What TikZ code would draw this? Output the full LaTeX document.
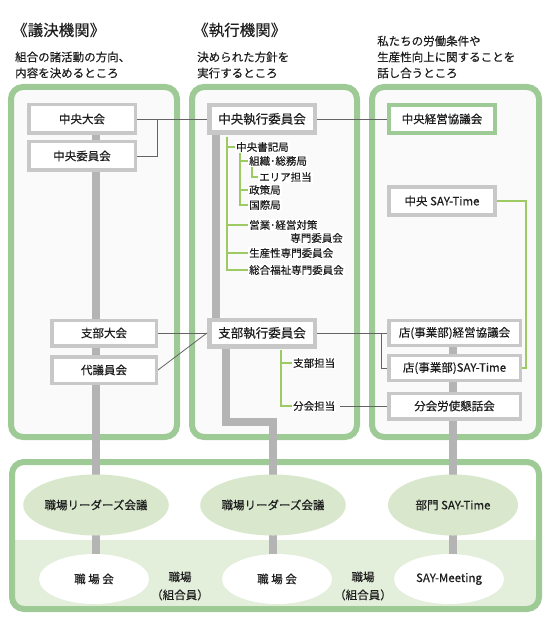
\documentclass[tikz,border=0pt]{standalone}
\usepackage{fontspec}
\setmainfont{Noto Sans CJK JP}[FakeBold=0.35]
\usetikzlibrary{shapes.geometric}

\definecolor{framegreen}{RGB}{158,202,150}
\definecolor{colbg}{RGB}{250,250,250}
\definecolor{boxgray}{RGB}{200,200,200}
\definecolor{bargray}{RGB}{180,180,180}
\definecolor{linkgray}{RGB}{100,100,100}
\definecolor{twiggreen}{RGB}{158,202,100}
\definecolor{ellgreen}{RGB}{217,232,205}
\definecolor{band}{RGB}{227,238,219}
\definecolor{txtgray}{RGB}{30,30,30}

\pgfdeclarelayer{back}
\pgfdeclarelayer{bars}
\pgfsetlayers{back,bars,main}

\begin{document}
\begin{tikzpicture}[x=1pt, y=-1pt,
  every node/.style={text=txtgray},
  frame/.style={draw=framegreen, line width=6pt, rounded corners=12pt, fill=colbg},
  box/.style={draw=boxgray, line width=3.5pt, fill=white, minimum width=106.5pt,
              minimum height=28.5pt, inner sep=1pt, font=\fontsize{11.5}{13}\selectfont},
  bigbox/.style={box, line width=4.5pt, minimum width=105.5pt, minimum height=27.5pt,
                 font=\fontsize{12.5}{14}\selectfont},
  widebox/.style={box, minimum width=131.5pt, minimum height=25pt},
  bar/.style={draw=bargray, line width=8pt},
  link/.style={draw=linkgray, line width=0.8pt},
  twig/.style={draw=twiggreen, line width=1.6pt},
  twigtxt/.style={anchor=west, inner sep=1pt, fill=white, font=\fontsize{10.5}{12}\selectfont},
  head/.style={anchor=west, inner sep=0pt, font=\fontsize{15.5}{18}\selectfont},
  note/.style={anchor=west, inner sep=0pt, font=\fontsize{11.5}{13}\selectfont},
  lead/.style={ellipse, fill=ellgreen, minimum width=130pt, minimum height=61pt,
               inner sep=0pt, font=\fontsize{11.5}{13}\selectfont},
  shop/.style={ellipse, fill=white, minimum width=110pt, minimum height=50pt,
               inner sep=0pt, font=\fontsize{11.5}{13}\selectfont},
  member/.style={align=center, inner sep=0pt, font=\fontsize{11.5}{18}\selectfont}
]
  \useasboundingbox (0,0) rectangle (549,620);

  % Headings
  \node[head] (hgiketsu) at (12,30) {《議決機関》};
  \node[note] (ng1) at (15,57) {組合の諸活動の方向、};
  \node[note] (ng2) at (15,73) {内容を決めるところ};
  \node[head] (hshikko) at (193,30) {《執行機関》};
  \node[note] (ns1) at (197,57) {決められた方針を};
  \node[note] (ns2) at (197,73) {実行するところ};
  \node[note] (nr1) at (377,41) {私たちの労働条件や};
  \node[note] (nr2) at (377,57) {生産性向上に関することを};
  \node[note] (nr3) at (377,73) {話し合うところ};

  % Decision side
  \node[box] (chuotaikai) at (82,119) {中央大会};
  \node[box] (chuoiin) at (82,156) {中央委員会};
  \node[box, minimum width=104.5pt, minimum height=25.5pt] (shibutaikai) at (104,333) {支部大会};
  \node[box, minimum width=104.5pt, minimum height=26.5pt] (daigiin) at (104,370) {代議員会};

  % Executive side
  \node[bigbox] (ceo) at (262,119) {中央執行委員会};
  \node[bigbox, minimum height=26.5pt] (shibuexec) at (262,333) {支部執行委員会};

  \node[twigtxt] (shoki) at (235,147) {中央書記局};
  \node[twigtxt] (soshiki) at (248,161) {組織･総務局};
  \node[twigtxt] (area) at (258,177) {エリア担当};
  \node[twigtxt] (seisaku) at (248,190) {政策局};
  \node[twigtxt] (kokusai) at (248,205) {国際局};
  \node[twigtxt] (eigyo) at (248,225) {営業･経営対策};
  \node[twigtxt, anchor=east] (eigyo2) at (344,238) {専門委員会};
  \node[twigtxt] (seisan) at (248,253) {生産性専門委員会};
  \node[twigtxt] (fukushi) at (248,270) {総合福祉専門委員会};
  \node[twigtxt] (shibutan) at (292,363) {支部担当};
  \node[twigtxt] (buntan) at (292,406) {分会担当};

  % Labour-management side
  \node[box, draw=framegreen, line width=4pt, minimum width=106pt, minimum height=28pt] (chuokeiei) at (442,119) {中央経営協議会};
  \node[box, line width=4pt, minimum width=106pt, minimum height=28pt] (csay) at (442,201) {中央 SAY-Time};
  \node[widebox] (tenkeiei) at (454.5,333) {店(事業部)経営協議会};
  \node[widebox] (tensay) at (454.5,368) {店(事業部)SAY-Time};
  \node[widebox, minimum height=25.5pt] (bunkai) at (454.5,406) {分会労使懇話会};

  % Workplace
  \node[lead] (lead1) at (96,505) {職場リーダーズ会議};
  \node[lead] (lead2) at (273,505) {職場リーダーズ会議};
  \node[lead] (lead3) at (453,505) {部門 SAY-Time};
  \node[shop] (shok1) at (94,579) {職 場 会};
  \node[shop] (shok2) at (277,579) {職 場 会};
  \node[shop] (shok3) at (449,579) {SAY-Meeting};
  \node[member] (kumi1) at (180,586) {職場\\（組合員）};
  \node[member] (kumi2) at (363,586) {職場\\（組合員）};

  % Links
  \coordinate (j1) at (157,119);
  \coordinate (j2) at (381,333);
  \draw[link] (chuotaikai.east) -- (ceo.west);
  \draw[link] (chuoiin.east) -| (j1);
  \draw[link] (ceo.east) -- (chuokeiei.west);
  \draw[link] (shibutaikai.east) -- (shibuexec.west);
  \draw[link] (daigiin.east) -- (shibuexec.west);
  \draw[link] (shibuexec.east) -- (tenkeiei.west);
  \draw[link] (j2) |- (tensay.west);
  \draw[link, shorten <=4pt] (buntan.east) -- (bunkai.west);

  % Tree
  \coordinate (t0) at (227,137);
  \coordinate (t1) at (240,153);
  \coordinate (t2) at (252,167);
  \coordinate (t3) at (281,350);
  \draw[twig] (t0) |- (shoki.west);
  \draw[twig] (t0) |- (eigyo.west);
  \draw[twig] (t0) |- (seisan.west);
  \draw[twig] (t0) |- (fukushi.west);
  \draw[twig] (t1) |- (soshiki.west);
  \draw[twig] (t1) |- (seisaku.west);
  \draw[twig] (t1) |- (kokusai.west);
  \draw[twig] (t2) |- (area.west);
  \draw[twig] (t3) |- (shibutan.west);
  \draw[twig] (t3) |- (buntan.west);
  \draw[twig] (csay.east) -- ++(29,0) |- (tensay.east);

  % Grey trunks
  \coordinate (mb1) at (216,119);
  \coordinate (mb2) at (226,333);
  \coordinate (bend) at (273,422);
  \begin{pgfonlayer}{bars}
    \draw[bar] (chuotaikai -| lead1) -- (lead1.center) -- (lead1 |- shok1);
    \draw[bar] (mb1) -- (mb1 |- shibuexec);
    \draw[bar] (mb2) |- (bend) -- (lead2.center) -- (lead2 |- shok2);
    \draw[bar] (tenkeiei -| lead3) -- (lead3.center) -- (lead3 |- shok3);
  \end{pgfonlayer}

  % Frames
  \begin{pgfonlayer}{back}
    \draw[frame] (11,87) rectangle (177,437);
    \draw[frame] (192,87) rectangle (357,437);
    \draw[frame] (372,87) rectangle (539,437);
    \begin{scope}
      \clip[rounded corners=12pt] (12,462) rectangle (539,609);
      \fill[white] (12,462) rectangle (539,609);
      \fill[band] (12,540) rectangle (539,609);
    \end{scope}
    \draw[frame, fill=none] (12,462) rectangle (539,609);
  \end{pgfonlayer}
\end{tikzpicture}
\end{document}
